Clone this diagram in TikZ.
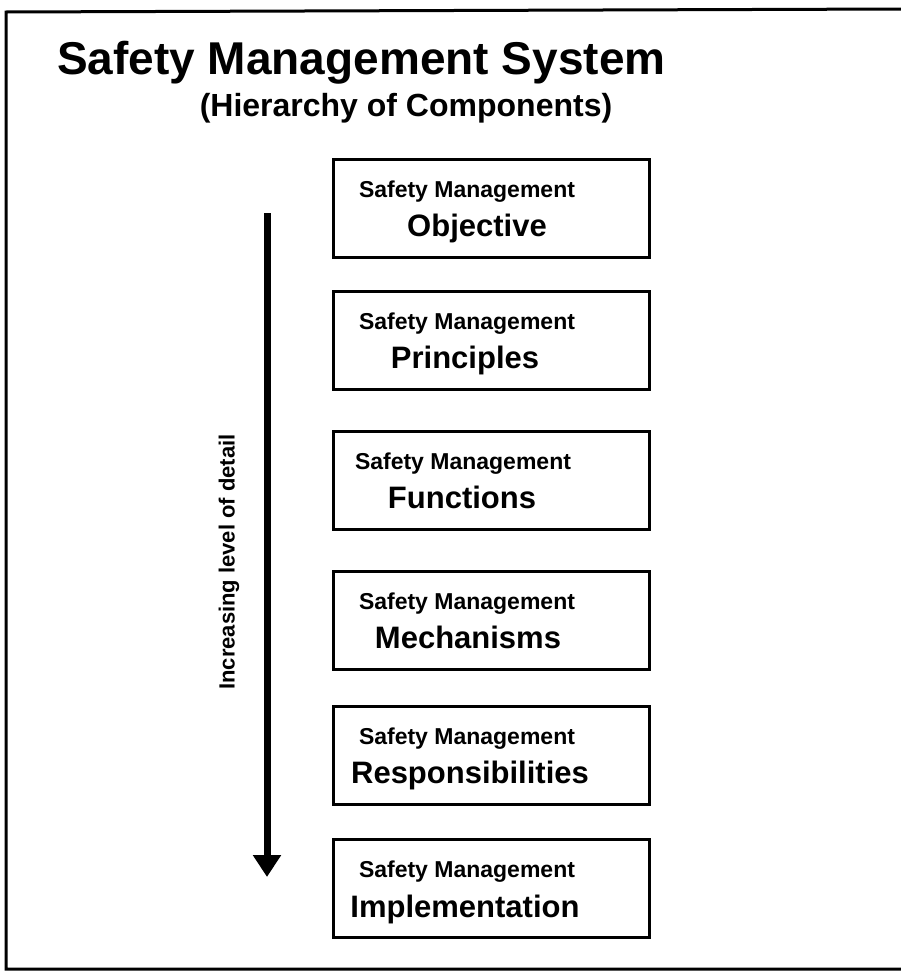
\documentclass[tikz,border=0pt]{standalone}
\usepackage{fontspec}
\setmainfont{Liberation Sans}
\usetikzlibrary{arrows.meta}
\begin{document}
\begin{tikzpicture}[x=1pt,y=-1pt,
  frame/.style={line width=3pt},
  levelbox/.style={draw,line width=3pt,minimum width=316pt,minimum height=98pt,anchor=north west},
  smalltxt/.style={font=\fontsize{23}{26}\selectfont\bfseries,anchor=base,inner sep=0pt},
  bigtxt/.style={font=\fontsize{31}{36}\selectfont\bfseries,anchor=base,inner sep=0pt},
  levelarrow/.style={line width=7pt,-{Triangle[width=27pt,length=22pt]}}
]
\useasboundingbox (0,0) rectangle (901,980);
% frame (open on the right)
\draw[frame] (901,9) -- (6,12) -- (6,969) -- (901,969);
% title
\node[font=\fontsize{46}{52}\selectfont\bfseries,anchor=base west,inner sep=0pt] (title) at (57,74) {Safety Management System};
\node[font=\fontsize{32}{36}\selectfont\bfseries,anchor=base,inner sep=0pt] (subtitle) at (406,116) {(Hierarchy of Components)};
% boxes
\node[levelbox] (b1) at (332,158) {};
\node[levelbox] (b2) at (332,290) {};
\node[levelbox] (b3) at (332,430) {};
\node[levelbox] (b4) at (332,570) {};
\node[levelbox] (b5) at (332,705) {};
\node[levelbox] (b6) at (332,838) {};
% texts
\node[smalltxt] (s1) at (467,197) {Safety Management};
\node[bigtxt] (t1) at (477,236) {Objective};
\node[smalltxt] (s2) at (467,329) {Safety Management};
\node[bigtxt] (t2) at (465,368) {Principles};
\node[smalltxt] (s3) at (463,469) {Safety Management};
\node[bigtxt] (t3) at (462,508) {Functions};
\node[smalltxt] (s4) at (467,609) {Safety Management};
\node[bigtxt] (t4) at (468,648) {Mechanisms};
\node[smalltxt] (s5) at (467,744) {Safety Management};
\node[bigtxt] (t5) at (470,783) {Responsibilities};
\node[smalltxt] (s6) at (467,877) {Safety Management};
\node[bigtxt] (t6) at (465,917) {Implementation};
% arrow
\coordinate (atop) at (267,213);
\coordinate (abot) at (267,877);
\draw[levelarrow] (atop) -- (abot);
\node[rotate=90,font=\fontsize{22}{26}\selectfont\bfseries,inner sep=0pt] (lbl) at (229,562) {Increasing level of detail};
\end{tikzpicture}
\end{document}
